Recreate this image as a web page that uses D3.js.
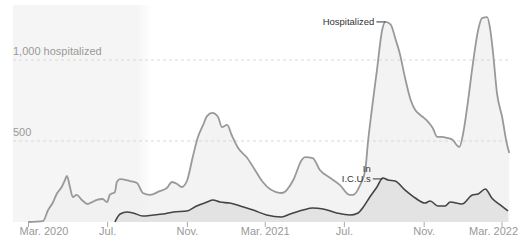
<!DOCTYPE html>
<html>
<head>
<meta charset="utf-8">
<script src="https://cdn.jsdelivr.net/npm/d3@7"></script>
<style>
  body { margin: 0; background: #fff; }
  text { font-family: "Liberation Sans", Arial, sans-serif; }
</style>
</head>
<body>
<div id="chart"></div>
<script>
const width = 518, height = 246;

// hospitalized
const hospDates = ["2020-03-01","2020-03-24","2020-04-01","2020-04-08","2020-04-15","2020-04-22","2020-04-27","2020-04-30",
  "2020-05-05","2020-05-09","2020-05-15","2020-05-23","2020-06-01","2020-06-08","2020-06-15","2020-06-24","2020-07-01",
  "2020-07-05","2020-07-13","2020-07-16","2020-07-21","2020-08-05","2020-08-16","2020-08-25","2020-09-05","2020-09-20",
  "2020-10-01","2020-10-09","2020-10-17","2020-10-24","2020-11-01","2020-11-10","2020-11-18","2020-11-26","2020-12-02",
  "2020-12-10","2020-12-19","2020-12-25","2021-01-02","2021-01-09","2021-01-19","2021-02-02","2021-02-14","2021-02-26",
  "2021-03-09","2021-03-28","2021-04-14","2021-04-27","2021-05-02","2021-05-14","2021-05-25","2021-06-10","2021-06-25",
  "2021-07-10","2021-07-15","2021-07-26","2021-08-03","2021-08-07","2021-08-13","2021-08-21","2021-08-29","2021-09-03",
  "2021-09-11","2021-09-19","2021-09-25","2021-10-03","2021-10-12","2021-10-19","2021-10-23","2021-10-31","2021-11-05",
  "2021-11-15","2021-11-22","2021-11-29","2021-12-07","2021-12-16","2021-12-22","2021-12-26","2022-01-01","2022-01-08",
  "2022-01-16","2022-01-24","2022-01-30","2022-02-07","2022-02-11","2022-02-16","2022-02-22","2022-03-02","2022-03-09",
  "2022-03-13"];
const hospValues = [0,5,74,117,179,216,259,284,
  210,154,167,136,111,123,136,142,123,
  167,185,247,265,253,241,179,167,191,
  210,247,235,216,253,401,525,599,654,
  673,648,586,599,537,457,395,321,247,
  204,179,259,383,401,395,321,272,228,
  167,167,228,321,488,691,938,1185,1235,
  1220,1123,1043,895,753,691,673,648,630,
  580,525,525,519,506,475,463,549,735,
  981,1185,1259,1265,1204,1043,796,648,488,
  426];

// in I.C.U.s
const icuDates = ["2020-07-13","2020-07-21","2020-08-01","2020-08-10","2020-08-25","2020-09-10","2020-09-25","2020-10-11",
  "2020-11-01","2020-11-16","2020-12-02","2020-12-11","2020-12-22","2021-01-06","2021-01-22","2021-02-11","2021-03-04",
  "2021-03-27","2021-04-09","2021-04-29","2021-05-14","2021-05-30","2021-06-20","2021-07-10","2021-07-23","2021-07-31",
  "2021-08-10","2021-08-21","2021-08-30","2021-09-07","2021-09-18","2021-10-03","2021-10-19","2021-11-03","2021-11-11",
  "2021-11-23","2021-12-04","2021-12-12","2021-12-30","2022-01-15","2022-01-24","2022-02-04","2022-02-14","2022-02-27",
  "2022-03-11"];
const icuValues = [0,49,62,56,37,43,49,62,
  68,99,123,136,123,117,99,74,43,
  31,49,74,86,80,56,43,56,93,
  154,216,272,259,253,198,148,117,130,
  99,99,123,111,167,173,204,148,105,
  68];

const tickDates = ["2020-03-01","2020-07-01","2020-11-01","2021-03-01","2021-07-01","2021-11-01","2022-03-01"];
const tickLabels = ["Mar. 2020","Jul.","Nov.","Mar. 2021","Jul.","Nov.","Mar. 2022"];
const gridValues = [500, 1000];
const gridLabels = ["500", "1,000 hospitalized"];

const parse = d3.utcParse("%Y-%m-%d");
const hosp = hospDates.map((d, i) => ({date: parse(d), value: hospValues[i]}));
const icu = icuDates.map((d, i) => ({date: parse(d), value: icuValues[i]}));

const plotLeft = 13, plotRight = 509, baseY = 222;

const x = d3.scaleUtc()
  .domain([parse("2020-03-01"), parse("2022-03-01")])
  .range([28, 501.5]);
const y = d3.scaleLinear().domain([0, 1000]).range([baseY, 60]);

const svg = d3.select("#chart").append("svg")
  .attr("width", width)
  .attr("height", height);

// shaded early period
const grad = svg.append("defs").append("linearGradient")
  .attr("id", "early")
  .attr("x1", "0").attr("x2", "1").attr("y1", "0").attr("y2", "0");
grad.append("stop").attr("offset", "0").attr("stop-color", "#f5f5f5");
grad.append("stop").attr("offset", "0.9").attr("stop-color", "#f5f5f5");
grad.append("stop").attr("offset", "1").attr("stop-color", "#f5f5f5").attr("stop-opacity", 0);

svg.append("rect")
  .attr("x", plotLeft)
  .attr("y", 5)
  .attr("width", 138)
  .attr("height", baseY - 5)
  .attr("fill", "url(#early)");

const area = d3.area()
  .x(d => x(d.date))
  .y0(baseY)
  .y1(d => y(d.value))
  .curve(d3.curveMonotoneX);
const line = d3.line()
  .x(d => x(d.date))
  .y(d => y(d.value))
  .curve(d3.curveMonotoneX);

svg.append("path")
  .datum(hosp)
  .attr("d", area)
  .attr("fill", "#efefef")
  .attr("fill-opacity", 0.75);

// gridlines
svg.selectAll(".grid")
  .data(gridValues)
  .enter().append("line")
  .attr("class", "grid")
  .attr("x1", plotLeft)
  .attr("x2", plotRight)
  .attr("y1", d => y(d))
  .attr("y2", d => y(d))
  .attr("stroke", "#d8d8d8")
  .attr("stroke-dasharray", "3,3");

svg.selectAll(".grid-label")
  .data(gridValues)
  .enter().append("text")
  .attr("class", "grid-label")
  .attr("x", plotLeft)
  .attr("y", d => y(d) - 5)
  .attr("font-size", "11px")
  .attr("fill", "#999")
  .text((d, i) => gridLabels[i]);

svg.append("path")
  .datum(icu)
  .attr("d", area)
  .attr("fill", "#e3e3e3");

svg.append("path")
  .datum(hosp)
  .attr("d", line)
  .attr("fill", "none")
  .attr("stroke", "#999")
  .attr("stroke-width", 1.8);

svg.append("path")
  .datum(icu)
  .attr("d", line)
  .attr("fill", "none")
  .attr("stroke", "#444")
  .attr("stroke-width", 1.6);

// x axis
const xAxis = d3.axisBottom(x)
  .tickValues(tickDates.map(parse))
  .tickSize(5)
  .tickFormat((d, i) => tickLabels[i]);

const xAxisGroup = svg.append("g")
  .attr("transform", `translate(0, ${baseY})`)
  .call(xAxis);
xAxisGroup.select(".domain").remove();
xAxisGroup.selectAll("line").attr("stroke", "#aaa");
xAxisGroup.selectAll("text")
  .attr("font-size", "11px")
  .attr("font-family", "Liberation Sans, Arial, sans-serif")
  .attr("fill", "#999")
  .attr("dy", "0.45em");
xAxisGroup.selectAll(".tick").filter((d, i) => i === 0).select("text")
  .attr("text-anchor", "start").attr("x", -9);
xAxisGroup.selectAll(".tick").filter((d, i) => i === tickDates.length - 1).select("text")
  .attr("text-anchor", "end").attr("x", 16);

// annotations
const hospPeak = hosp[61];
svg.append("line")
  .attr("x1", x(hospPeak.date) - 9).attr("x2", x(hospPeak.date))
  .attr("y1", y(hospPeak.value)).attr("y2", y(hospPeak.value))
  .attr("stroke", "#333");
svg.append("text")
  .attr("x", x(hospPeak.date) - 11)
  .attr("y", y(hospPeak.value) + 3.5)
  .attr("text-anchor", "end")
  .attr("font-size", "9.5px")
  .attr("fill", "#333")
  .text("Hospitalized");

const icuPeak = icu[28];
svg.append("line")
  .attr("x1", x(icuPeak.date) - 10).attr("x2", x(icuPeak.date))
  .attr("y1", y(icuPeak.value) + 1).attr("y2", y(icuPeak.value) + 1)
  .attr("stroke", "#333");
const icuLabel = svg.append("text")
  .attr("text-anchor", "end")
  .attr("font-size", "9.5px")
  .attr("fill", "#333");
icuLabel.append("tspan")
  .attr("x", x(icuPeak.date) - 12).attr("y", y(icuPeak.value) - 6)
  .text("In");
icuLabel.append("tspan")
  .attr("x", x(icuPeak.date) - 12).attr("y", y(icuPeak.value) + 4.5)
  .text("I.C.U.s");
</script>
</body>
</html>
